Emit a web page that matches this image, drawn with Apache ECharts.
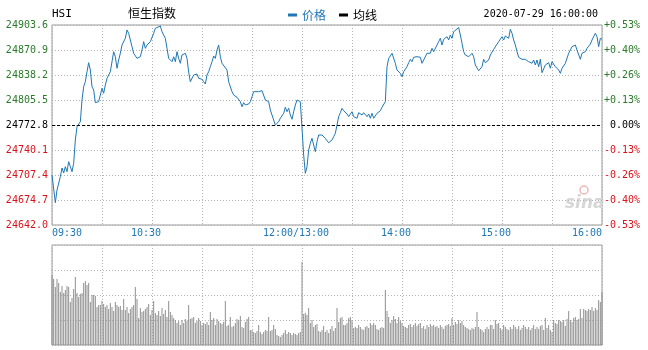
<!DOCTYPE html>
<html><head><meta charset="utf-8">
<script src="https://cdn.jsdelivr.net/npm/echarts@6.0.0/dist/echarts.min.js"></script>
<style>html,body{margin:0;padding:0;background:#fff}#c{width:648px;height:350px}</style>
</head><body><div id="c"></div>
<script>
const prevClose = 24772.8;
const yMin = 24642.0, yMax = 24903.6, yStep = 32.7;
// trading-minute index from 09:30 (0..150 morning, 150..330 afternoon)
const minutes = [0,2,3,5,6,7,8,9,10,11,12,13,14,15,16,17,18,19,20,21,22,23,24,25,26,28,29,30,31,32,33,35,36,37,38,39,40,41,42,43,44,45,46,47,48,49,50,51,53,54,55,56,57,58,59,61,62,63,65,66,67,68,69,70,72,73,74,75,76,77,78,80,81,82,83,84,85,87,88,90,91,92,93,94,95,96,97,98,99,100,101,102,103,105,106,107,108,109,110,111,112,113,114,115,116,118,119,120,121,122,124,125,126,127,128,130,131,132,133,134,136,137,138,139,140,141,142,143,144,145,146,147,148,149,150,151,152,153,154,155,156,157,158,159,160,161,162,164,165,166,168,169,170,171,172,173,174,175,177,178,179,180,181,183,184,185,186,187,189,190,191,192,193,194,195,197,198,199,200,201,202,203,204,206,207,208,209,210,211,213,214,215,216,217,219,220,221,222,223,225,226,227,228,229,231,232,233,234,235,237,238,239,240,241,242,244,245,246,247,248,250,251,252,253,254,256,257,258,259,260,262,263,264,265,266,268,269,270,271,272,274,275,276,277,278,279,280,282,283,284,285,286,288,289,290,291,292,293,294,296,297,298,299,300,302,303,304,305,306,308,309,310,311,312,314,315,316,317,318,320,321,322,323,324,326,327,328,329,330];
const prices = [24707.4,24671.2,24687.8,24705.2,24716.6,24710.0,24718.3,24711.7,24724.8,24718.3,24711.7,24722.7,24753.2,24770.6,24768.9,24777.1,24805.5,24822.9,24829.4,24842.5,24854.3,24844.7,24822.9,24818.6,24802.0,24803.3,24812.0,24820.8,24814.3,24825.1,24833.9,24842.5,24855.6,24868.7,24862.1,24847.0,24857.8,24866.6,24877.4,24875.2,24886.2,24897.1,24892.7,24890.5,24875.2,24866.6,24868.7,24860.0,24862.1,24870.9,24881.8,24873.1,24877.4,24875.2,24881.8,24892.7,24899.3,24901.4,24902.3,24894.8,24890.5,24886.2,24873.1,24860.0,24855.6,24862.1,24855.6,24868.7,24860.0,24853.5,24864.4,24866.6,24860.0,24842.1,24829.4,24830.7,24838.2,24839.5,24833.9,24832.6,24829.4,24826.4,24838.2,24842.5,24849.1,24855.6,24863.1,24860.0,24870.9,24877.4,24862.1,24853.5,24855.6,24844.7,24829.4,24827.3,24816.4,24812.0,24813.3,24809.0,24809.0,24803.3,24796.7,24802.0,24799.0,24800.3,24803.3,24809.8,24816.4,24818.6,24816.4,24818.6,24817.7,24816.4,24805.5,24803.3,24792.4,24790.2,24779.3,24772.8,24777.1,24781.6,24782.9,24788.1,24796.0,24790.2,24794.6,24785.9,24780.3,24790.2,24799.0,24805.5,24806.4,24803.3,24801.2,24733.6,24709.6,24718.3,24740.1,24748.9,24755.4,24757.5,24737.9,24751.0,24759.7,24761.0,24759.7,24755.4,24752.3,24749.6,24753.2,24757.5,24761.9,24772.8,24783.7,24788.9,24794.6,24791.5,24787.2,24783.7,24781.6,24790.2,24783.7,24781.6,24788.9,24790.2,24785.9,24788.9,24783.7,24787.2,24781.6,24788.1,24781.6,24779.3,24788.1,24791.5,24796.0,24794.6,24803.3,24849.1,24860.0,24863.1,24866.6,24853.5,24844.7,24843.8,24840.4,24836.0,24842.5,24849.1,24854.3,24858.7,24855.6,24861.4,24862.1,24860.0,24861.4,24853.5,24854.3,24866.6,24868.7,24866.6,24873.1,24868.7,24877.4,24881.8,24886.2,24877.4,24884.9,24888.3,24884.0,24890.5,24886.2,24894.8,24893.5,24900.3,24890.5,24879.7,24868.7,24864.4,24862.1,24860.0,24866.6,24862.1,24851.3,24843.8,24844.7,24849.1,24858.7,24854.3,24857.8,24864.4,24866.6,24871.8,24873.1,24881.8,24884.0,24888.3,24884.0,24889.2,24886.2,24898.0,24892.7,24884.0,24877.4,24868.7,24861.4,24858.7,24860.0,24858.7,24856.9,24855.6,24853.5,24857.8,24851.3,24857.8,24849.1,24858.7,24841.2,24851.3,24849.1,24854.3,24847.0,24855.6,24849.1,24847.0,24844.7,24840.4,24847.0,24853.5,24855.6,24866.6,24870.9,24875.2,24877.4,24870.9,24873.1,24858.7,24866.6,24868.7,24873.1,24875.2,24878.7,24884.0,24892.7,24888.3,24875.2,24886.2,24884.9];
// per-minute volume (relative units), index = minute
const volumes = [70,66,58,66,62,53,59,52,55,59,58,43,47,56,68,52,48,51,52,62,64,60,62,43,50,50,49,38,40,
40,44,41,38,40,36,42,38,34,43,40,38,39,35,46,35,38,32,36,38,40,58,46,27,37,33,34,36,38,41,30,
35,44,32,30,34,29,37,31,35,28,44,33,30,27,25,22,24,20,25,22,26,24,40,26,27,28,22,24,27,24,
20,22,21,23,20,33,25,27,20,26,24,22,21,23,44,19,20,28,18,19,22,26,25,29,18,17,23,26,28,15,
15,13,12,14,20,13,11,13,15,14,28,14,15,20,16,10,9,8,10,12,15,11,13,12,10,12,11,10,12,13,83,
31,32,30,37,22,25,18,20,21,14,13,15,19,13,15,12,16,19,14,17,37,23,27,28,20,20,22,27,28,25,
17,18,17,20,18,16,15,18,19,17,22,20,22,20,16,15,17,18,17,55,34,28,22,25,29,26,22,28,24,22,
19,18,17,20,21,18,20,22,19,21,22,17,19,16,20,18,21,19,20,18,19,17,20,18,16,19,20,21,19,27,
20,23,21,25,22,24,20,18,17,16,15,17,16,18,33,18,16,15,13,16,18,16,20,20,16,25,21,22,17,15,
20,18,16,15,18,16,20,18,16,19,15,17,20,18,16,18,15,17,20,16,18,16,19,20,15,27,17,20,15,13,
25,22,21,25,24,23,25,19,26,34,25,23,27,28,25,26,36,27,36,35,34,36,35,38,34,37,35,45,43,53];
const tickMinutes = [0,60,150,210,270,330];
const tickLabels = ['09:30','10:30','12:00/13:00','14:00','15:00','16:00'];

const mono = '"DejaVu Sans Mono", monospace';
const cjk = '"Noto Sans CJK SC", sans-serif';
const lineColor = '#1f77b4';
const up = '#2a7a2a', down = '#d8121b';
const dotted = {color:'#b4b4b4', type:[1,2], width:1};

const chart = echarts.init(document.getElementById('c'), null, {renderer:'canvas'});
chart.setOption({
  animation:false,
  backgroundColor:'#fff',
  grid:[
    {left:52, top:25, width:550, height:200, show:true, borderColor:'#999', borderWidth:1},
    {left:52, top:245, width:550, height:100, show:true, borderColor:'#999', borderWidth:1}
  ],
  legend:{left:283, top:4, itemWidth:9, itemHeight:3, itemGap:13, icon:'rect',
    textStyle:{fontFamily:cjk, fontSize:12},
    data:[{name:'价格', textStyle:{color:lineColor}}, {name:'均线', textStyle:{color:'#000'}}]},
  xAxis:[
    {type:'value', gridIndex:0, min:0, max:330, interval:30,
     axisLine:{show:false}, axisTick:{show:false},
     splitLine:{show:true, lineStyle:dotted},
     axisLabel:{margin:3, fontFamily:mono, fontSize:10, color:lineColor,
       alignMinLabel:'left', alignMaxLabel:'right',
       formatter:function(v){const i=tickMinutes.indexOf(Math.round(v)); if(i<0) return '';
         if(i===0) return '{e|'+tickLabels[i]+'}';
         if(i===tickLabels.length-1) return '{e|'+tickLabels[i]+'}';
         return '{m|'+tickLabels[i]+'}';},
       rich:{e:{fontFamily:mono,fontSize:10,color:lineColor}, m:{fontFamily:mono,fontSize:10,color:lineColor,padding:[0,12,0,0]}}}},
    {type:'value', gridIndex:1, min:0, max:330, interval:30,
     axisLine:{show:false}, axisTick:{show:false}, axisLabel:{show:false},
     splitLine:{show:true, lineStyle:dotted}}
  ],
  yAxis:[
    {type:'value', gridIndex:0, min:yMin, max:yMax, interval:yStep,
     axisLine:{show:false}, axisTick:{show:false},
     splitLine:{show:true, lineStyle:dotted},
     axisLabel:{margin:4, fontFamily:mono, fontSize:10,
       formatter:v=>v.toFixed(1),
       color:v=>Math.abs(v-prevClose)<0.05?'#000':(v>prevClose?up:down)}},
    {type:'value', gridIndex:0, position:'right', min:yMin, max:yMax, interval:yStep,
     axisLine:{show:false}, axisTick:{show:false}, splitLine:{show:false},
     axisLabel:{margin:38, align:'right', fontFamily:mono, fontSize:10,
       formatter:function(v){const p=(v-prevClose)/prevClose*100; if(Math.abs(p)<0.005) return '0.00%';
         return (p>0?'+':'')+p.toFixed(2)+'%';},
       color:v=>Math.abs(v-prevClose)<0.05?'#000':(v>prevClose?up:down)}},
    {type:'value', gridIndex:1, min:0, max:100, interval:25,
     axisLine:{show:false}, axisTick:{show:false}, axisLabel:{show:false},
     splitLine:{show:true, lineStyle:dotted}}
  ],
  series:[
    {name:'价格', type:'line', xAxisIndex:0, yAxisIndex:0,
     data:minutes.map((m,i)=>[m,prices[i]]), showSymbol:false, symbol:'none',
     lineStyle:{color:lineColor, width:1}, itemStyle:{color:lineColor},
     markLine:{silent:true, symbol:'none', label:{show:false},
       lineStyle:{color:'#000', type:[3,2], width:1}, data:[{yAxis:prevClose}]}},
    {name:'均线', type:'line', xAxisIndex:0, yAxisIndex:0, data:[], itemStyle:{color:'#000'}, lineStyle:{color:'#000'}},
    {name:'成交量', type:'bar', xAxisIndex:1, yAxisIndex:2, barWidth:1,
     data:volumes.map((v,i)=>[i,v]), itemStyle:{color:'#8f8f8f'}}
  ],
  graphic:[
    {type:'text', left:52, top:9, style:{text:'HSI', fontFamily:mono, fontSize:11, fill:'#000'}},
    {type:'text', left:128, top:7, style:{text:'恒生指数', fontFamily:cjk, fontSize:12, fill:'#000'}},
    {type:'text', right:50, top:9, style:{text:'2020-07-29 16:00:00', fontFamily:mono, fontSize:10, fill:'#000'}},
    {type:'circle', shape:{cx:584, cy:190, r:4}, style:{fill:'none', stroke:'#f0b8b8', lineWidth:1.5}},
    {type:'text', left:565, top:195, style:{text:'sina', fontFamily:'"DejaVu Sans", sans-serif', fontStyle:'italic', fontWeight:'bold', fontSize:17, fill:'#d6d6d6'}}
  ]
});
</script></body></html>
